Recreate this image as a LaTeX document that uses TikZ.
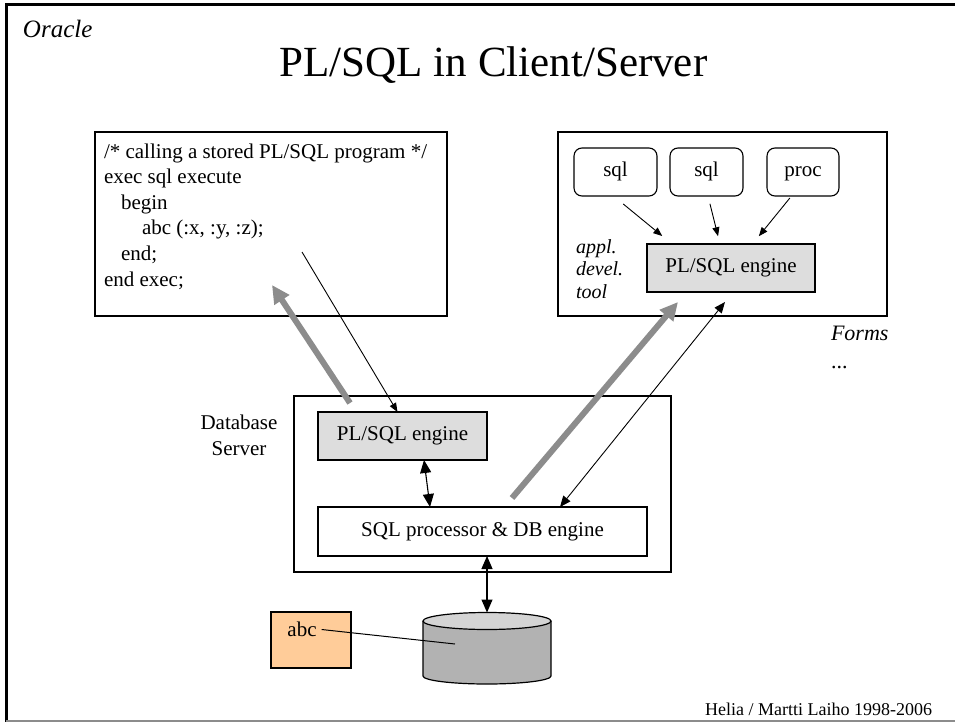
\documentclass[tikz,border=0pt]{standalone}
\usepackage{fontspec}
\setmainfont{Liberation Serif}
\usetikzlibrary{arrows.meta, positioning, calc}
\definecolor{enginegray}{HTML}{DDDDDD}
\definecolor{flowgray}{HTML}{8C8C8C}
\definecolor{abcfill}{HTML}{FFCC99}
\definecolor{dbbody}{HTML}{B2B2B2}
\definecolor{dbtop}{HTML}{D4D4D4}
\definecolor{rulegray}{HTML}{8C8C8C}

\begin{document}
\begin{tikzpicture}[
    x=1pt, y=-1pt,
    every node/.style={inner sep=0pt, outer sep=0pt},
    txt/.style={font=\fontsize{21}{25.6}\selectfont},
    panel/.style={draw, line width=1.4pt},
    box/.style={draw, line width=1.4pt, font=\fontsize{21}{25}\selectfont, text height=14pt, text depth=4.5pt},
    engine/.style={box, fill=enginegray},
    srcbox/.style={box, line width=1.1pt, rounded corners=8pt, minimum height=48pt},
    arrow/.style={-{Triangle[length=9pt, width=7pt]}, line width=0.9pt},
    thinbi/.style={{Triangle[length=11pt, width=9pt]}-{Triangle[length=11pt, width=9pt]}, line width=0.9pt},
    biarrow/.style={{Triangle[length=13pt, width=11pt]}-{Triangle[length=13pt, width=11pt]}, line width=1.1pt},
    flow/.style={-{Triangle[length=18pt, width=17pt]}, line width=6pt, flowgray},
]
\useasboundingbox (0,0) rectangle (955,722);

% Slide frame
\draw[line width=3pt] (6,722) -- (6,5) -- (955,5);
\draw[rulegray, line width=2pt] (6,720.5) -- (955,720.5);
\node[anchor=base west, font=\fontsize{25}{30}\selectfont\itshape] (oracle) at (23,38) {Oracle};
\node[anchor=base, font=\fontsize{43}{50}\selectfont] (title) at (493.5,77) {PL/SQL in Client/Server};
\node[anchor=base east, font=\fontsize{18}{22}\selectfont] (footer) at (932,715) {Helia / Martti Laiho 1998-2006};

% Client program
\node[panel, minimum width=352pt, minimum height=184pt] (client) at (271,224) {};
\node[txt, anchor=north west, align=left] (code) at (104,143.5)
    {/* calling a stored PL/SQL program */\\exec sql execute\\\hspace*{17pt}begin\\%
     \hspace*{38pt}abc (:x, :y, :z);\\\hspace*{17pt}end;\\end exec;};

% Development tool
\node[panel, minimum width=329pt, minimum height=184pt] (tool) at (722.5,224) {};
\node[srcbox, minimum width=83pt] (sqla) at (615.5,172) {sql};
\node[srcbox, minimum width=73pt] (sqlb) at (706.5,172) {sql};
\node[srcbox, minimum width=72pt] (procn) at (803,172) {proc};
\node[engine, minimum width=168pt, minimum height=48pt] (toolengine) at (731,268) {PL/SQL engine};
\node[anchor=north west, align=left, font=\fontsize{20}{22.5}\selectfont\itshape] (tooltag) at (576,239.5) {appl.\\devel.\\tool};
\node[anchor=base west, font=\fontsize{22}{26}\selectfont\itshape] (forms) at (831,340) {Forms};
\node[anchor=base west, font=\fontsize{22}{26}\selectfont] (more) at (831,368) {...};

\draw[arrow, shorten <=12.6pt, shorten >=12.6pt] ([xshift=-2pt]sqla.south) -- ([xshift=-59pt]toolengine.north);
\draw[arrow, shorten <=8pt, shorten >=8pt] ([xshift=1.5pt]sqlb.south) -- ([xshift=-11pt]toolengine.north);
\draw[arrow, shorten <=2.6pt, shorten >=10pt] ([xshift=-11.5pt]procn.south) -- ([xshift=21.5pt]toolengine.north);

% Database server
\node[panel, minimum width=377pt, minimum height=176pt] (server) at (482.5,484) {};
\node[txt, align=center] (srvlabel) at (239,435.5) {Database\\Server};
\node[engine, minimum width=169pt, minimum height=48pt] (dbengine) at (402.5,436) {PL/SQL engine};
\node[box, fill=white, minimum width=329pt, minimum height=49pt] (sqlproc) at (482.5,531.5) {SQL processor \& DB engine};
\draw[biarrow] ([xshift=21.5pt]dbengine.south) -- ([xshift=-52.5pt]sqlproc.north);

% Database and stored procedure
\node[minimum width=128pt, minimum height=72pt] (db) at (487,648.5) {};
\filldraw[fill=dbbody, line width=1.2pt] (db.west |- 0,621) -- (db.west |- 0,676)
    arc[start angle=180, end angle=0, x radius=64, y radius=8] -- (db.east |- 0,621);
\filldraw[fill=dbtop, line width=1.2pt] (db.center |- 0,621) ellipse [x radius=64, y radius=8.5];
\node[draw, line width=1.2pt, fill=abcfill, minimum width=80pt, minimum height=56pt] (abc) at (311,640) {};
\node[txt] (abctext) at (302,629.5) {abc};
\draw[line width=1pt] ([xshift=5pt]abctext.east) -- ($(db.center)+(-32,-4.5)$);
\draw[biarrow] (db.north |- sqlproc.south) -- (db.north);

% Calls and results
\coordinate (callpt) at (302,252);
\draw[arrow] (callpt) -- ([xshift=-5pt]dbengine.north);
\coordinate (resfrom) at (350,403);
\coordinate (resto) at (272,285);
\draw[flow] (resfrom) -- (resto);
\coordinate (flowfrom) at (512,498);
\coordinate (flowto) at (678,302);
\draw[flow] (flowfrom) -- (flowto);
\draw[thinbi] ([xshift=77.5pt]sqlproc.north) -- ([xshift=-6pt, yshift=-10pt]toolengine.south);
\end{tikzpicture}
\end{document}
